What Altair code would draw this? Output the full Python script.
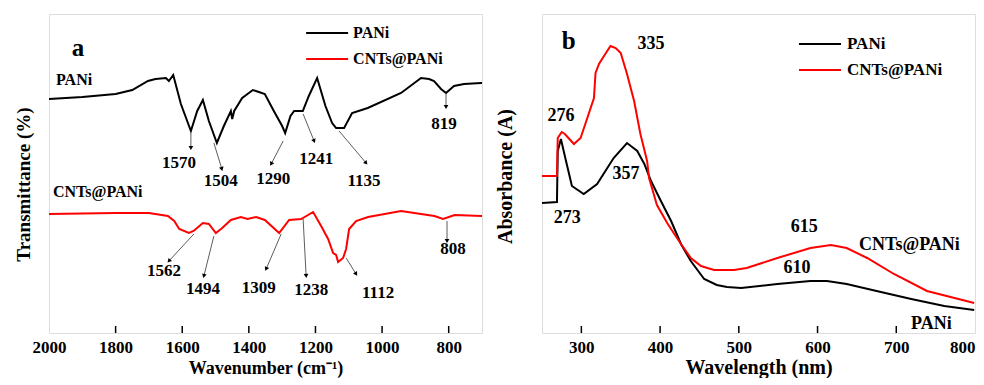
import math
import altair as alt
import pandas as pd

FONT = "Liberation Serif, Times New Roman, serif"

# ---------------- data: FTIR (panel a) ----------------
ftir_pani_wn = [2000, 1900, 1800, 1750, 1703, 1680, 1649, 1640, 1627, 1604, 1574, 1555, 1538,
                1520, 1496, 1475, 1454, 1450, 1444, 1420, 1388, 1370, 1352, 1325, 1300, 1291,
                1275, 1264, 1238, 1220, 1195, 1170, 1150, 1138, 1114, 1090, 1043, 943, 883,
                859, 844, 823, 808, 784, 754, 703, 700]
ftir_pani_t = [234, 236, 239, 243, 252, 254, 255, 252, 258, 229, 202, 222, 233,
               212, 190, 207, 222, 214, 222, 235, 243, 241, 239, 222, 207, 200,
               217, 222, 222, 237, 255, 227, 210, 205, 205, 220, 225, 240, 255,
               254, 252, 244, 240, 247, 249, 250, 250]

ftir_cnt_wn = [2000, 1800, 1700, 1643, 1624, 1609, 1580, 1566, 1538, 1520, 1499, 1480, 1454,
               1424, 1404, 1378, 1352, 1309, 1279, 1243, 1207, 1183, 1162, 1147, 1138, 1132,
               1117, 1108, 1099, 1078, 1042, 943, 843, 817, 782, 700]
ftir_cnt_t = [119, 120, 120, 117, 112, 104, 100, 102, 110, 109, 100, 105, 113,
              116, 114, 116, 113, 100, 113, 114, 121, 107, 94, 80, 78, 71,
              75, 84, 104, 112, 116, 122, 117, 114, 118, 117]

# ---------------- data: UV-Vis (panel b) ----------------
uv_pani_wl = [250, 269, 270, 274, 280.5, 288, 303, 320, 341, 358, 371, 380, 388.5, 401, 414,
              426.5, 439, 456, 472, 485, 503, 549, 591, 612, 637, 675, 719, 761, 799]
uv_pani_a = [130, 131, 182, 194, 172, 147, 139, 149, 175, 190, 182, 169, 152, 132, 112,
             89, 72, 54, 48, 46, 45, 49, 52, 52, 49, 42, 34, 27, 23]

uv_cnt_wl = [250, 269, 270, 275, 279, 290.6, 299, 303.3, 316, 318, 322.4, 328.7, 337, 343.6,
             350, 358, 367, 375, 383.5, 386, 396, 409, 426.5, 439, 452, 468.5, 494, 510, 549,
             591, 617, 637, 663, 697, 739, 799]
uv_cnt_a = [157, 157, 195, 201, 199, 189, 195, 205, 235, 260, 269, 277, 287, 285,
            280, 259, 232, 199, 172, 155, 128, 110, 89, 75, 67, 63, 63, 65, 75,
            85, 88, 85, 75, 59, 42, 30]

series_names = ["PANi", "CNTs@PANi"]
series_colors = ["#000000", "#ff0000"]

# axis ticks
ftir_tick_values = [2000, 1800, 1600, 1400, 1200, 1000, 800]
ftir_inner_ticks = [1800, 1600, 1400, 1200, 1000, 800]
uv_tick_values = [300, 400, 500, 600, 700, 800]
uv_inner_ticks = [300, 400, 500, 600, 700]

# peak annotations panel a: label, text x, text y, arrow x1, y1, x2, y2
ftir_peak_labels = ["1570", "1504", "1290", "1241", "1135", "819",
                    "1562", "1494", "1309", "1238", "1112", "808"]
ftir_peak_tx = [1610, 1484, 1327, 1198, 1054, 814, 1655, 1538, 1370, 1213, 1012, 787]
ftir_peak_ty = [170, 152, 154, 174, 152, 209, 62, 44, 45, 43, 40, 84]
ftir_arrow_x1 = [1574, 1505, 1297, 1237, 1129, 808, 1565, 1505, 1303, 1237, 1108, 805]
ftir_arrow_y1 = [200, 190, 192, 219, 202, 239, 99, 97, 99, 114, 75, 112]
ftir_arrow_x2 = [1574, 1481, 1333, 1204, 1048, 808, 1640, 1535, 1348, 1228, 1078, 805]
ftir_arrow_y2 = [185, 164, 169, 192, 170, 226, 72, 57, 64, 57, 59, 92]

ftir_curve_labels = ["PANi", "CNTs@PANi"]
ftir_curve_lx = [1979, 1988]
ftir_curve_ly = [253, 141]

# annotations panel b
uv_peak_labels = ["335", "276", "357", "273", "615", "610"]
uv_peak_tx = [388.5, 274, 356.7, 282, 583, 574]
uv_peak_ty = [289, 217, 159, 115, 106, 65]
uv_curve_labels = ["CNTs@PANi", "PANi"]
uv_curve_lx = [652.7, 718.7]
uv_curve_ly = [88, 9]

# in-plot legends (data coordinates)
ftir_leg_x1, ftir_leg_x2, ftir_leg_tx = 1228, 1102, 1087
ftir_leg_y = [300, 274]
uv_leg_x1, uv_leg_x2, uv_leg_tx = 576.4, 629.8, 637.4
uv_leg_y = [289, 263]

W, H = 433, 319
Y_DOMAIN = [0, 319]

color_scale = alt.Scale(domain=series_names, range=series_colors)


def series_df(xs, ys, name):
    return pd.DataFrame({"x": xs, "y": ys, "series": name, "order": list(range(len(xs)))})


def arrow_df(labels, x1, y1, x2, y2, kx):
    rows = []
    for lab, a, b, c, d in zip(labels, x1, y1, x2, y2):
        dx = (c - a) * kx
        dy = -(d - b)
        ang = math.degrees(math.atan2(dx, -dy)) % 360
        rows.append({"label": lab, "x1": a, "y1": b, "x2": c, "y2": d, "ang": ang})
    return pd.DataFrame(rows)


def panel(lines_df, xdom, reverse, xvals, inner_ticks, xtitle, ytitle, xtitle_size,
          ytitle_size, ytitle_pad, ytitle_y, xtitle_pad, flush, arrows, peak_df, curve_df,
          leg_df, letter, letter_xy, ann_size, curve_size, leg_size):
    xs = alt.Scale(domain=xdom, reverse=reverse, nice=False, zero=False)
    ys = alt.Scale(domain=Y_DOMAIN, nice=False, zero=False)
    x_axis = alt.Axis(values=xvals, title=xtitle, grid=False, domain=False, ticks=False,
                      format="d", labelFlush=flush, labelPadding=6, labelFont=FONT,
                      labelFontWeight="bold", labelFontSize=17, labelColor="#000",
                      titleFont=FONT, titleFontWeight="bold", titleFontSize=xtitle_size,
                      titleColor="#000", titlePadding=xtitle_pad)
    y_axis = alt.Axis(labels=False, ticks=False, domain=False, grid=False, title=ytitle,
                      titleFont=FONT, titleFontWeight="bold", titleFontSize=ytitle_size,
                      titleColor="#000", titlePadding=ytitle_pad, titleY=ytitle_y)

    base_lines = alt.Chart(lines_df).mark_line(strokeWidth=2, clip=True).encode(
        x=alt.X("x:Q", scale=xs, axis=x_axis),
        y=alt.Y("y:Q", scale=ys, axis=y_axis),
        color=alt.Color("series:N", scale=color_scale, legend=None),
        order="order:Q",
        detail="series:N",
    )

    ticks = alt.Chart(pd.DataFrame({"t": inner_ticks})).mark_rule(
        color="#000", strokeWidth=1.5).encode(
        x=alt.X("t:Q", scale=xs), y=alt.value(H), y2=alt.value(H - 7))

    layers = [base_lines, ticks]
    if len(arrows):
        arrow_lines = alt.Chart(arrows).mark_rule(color="#333", strokeWidth=0.8).encode(
            x=alt.X("x1:Q", scale=xs), x2="x2:Q",
            y=alt.Y("y1:Q", scale=ys), y2="y2:Q")
        arrow_heads = alt.Chart(arrows).mark_point(
            shape="triangle-up", filled=True, color="#000", size=22, opacity=1).encode(
            x=alt.X("x2:Q", scale=xs), y=alt.Y("y2:Q", scale=ys),
            angle=alt.Angle("ang:Q", scale=None))
        layers += [arrow_lines, arrow_heads]

    peak_text = alt.Chart(peak_df).mark_text(
        font=FONT, fontWeight="bold", fontSize=ann_size, color="#000",
        align="center", baseline="middle").encode(
        x=alt.X("x:Q", scale=xs), y=alt.Y("y:Q", scale=ys), text="label:N")

    curve_text = alt.Chart(curve_df).mark_text(
        font=FONT, fontWeight="bold", fontSize=curve_size, color="#000",
        align="left", baseline="middle").encode(
        x=alt.X("x:Q", scale=xs), y=alt.Y("y:Q", scale=ys), text="label:N")

    leg_lines = alt.Chart(leg_df).mark_rule(strokeWidth=2).encode(
        x=alt.X("x1:Q", scale=xs), x2="x2:Q", y=alt.Y("y:Q", scale=ys),
        color=alt.Color("series:N", scale=color_scale, legend=None))
    leg_text = alt.Chart(leg_df).mark_text(
        font=FONT, fontWeight="bold", fontSize=leg_size, color="#000",
        align="left", baseline="middle").encode(
        x=alt.X("tx:Q", scale=xs), y=alt.Y("y:Q", scale=ys), text="series:N")

    letter_text = alt.Chart(pd.DataFrame({"x": [letter_xy[0]], "y": [letter_xy[1]],
                                          "label": [letter]})).mark_text(
        font=FONT, fontWeight="bold", fontSize=25, color="#000",
        align="center", baseline="middle").encode(
        x=alt.X("x:Q", scale=xs), y=alt.Y("y:Q", scale=ys), text="label:N")

    layers += [peak_text, curve_text, leg_lines, leg_text, letter_text]
    return alt.layer(*layers).properties(width=W, height=H)


ftir_lines = pd.concat([series_df(ftir_pani_wn, ftir_pani_t, "PANi"),
                        series_df(ftir_cnt_wn, ftir_cnt_t, "CNTs@PANi")])
uv_lines = pd.concat([series_df(uv_pani_wl, uv_pani_a, "PANi"),
                      series_df(uv_cnt_wl, uv_cnt_a, "CNTs@PANi")])

ftir_arrows = arrow_df(ftir_peak_labels, ftir_arrow_x1, ftir_arrow_y1, ftir_arrow_x2,
                       ftir_arrow_y2, -W / 1300)
uv_arrows = pd.DataFrame()

ftir_peaks = pd.DataFrame({"label": ftir_peak_labels, "x": ftir_peak_tx, "y": ftir_peak_ty})
ftir_curves = pd.DataFrame({"label": ftir_curve_labels, "x": ftir_curve_lx, "y": ftir_curve_ly})
uv_peaks = pd.DataFrame({"label": uv_peak_labels, "x": uv_peak_tx, "y": uv_peak_ty})
uv_curves = pd.DataFrame({"label": uv_curve_labels, "x": uv_curve_lx, "y": uv_curve_ly})

ftir_leg = pd.DataFrame({"series": series_names, "x1": [ftir_leg_x1] * 2,
                         "x2": [ftir_leg_x2] * 2, "tx": [ftir_leg_tx] * 2, "y": ftir_leg_y})
uv_leg = pd.DataFrame({"series": series_names, "x1": [uv_leg_x1] * 2,
                       "x2": [uv_leg_x2] * 2, "tx": [uv_leg_tx] * 2, "y": uv_leg_y})

left = panel(ftir_lines, [700, 2000], True, ftir_tick_values, ftir_inner_ticks,
             "Wavenumber (cm\u207b\u00b9)", "Transmittance (%)", 18, 19, 16, 170, 4, False,
             ftir_arrows, ftir_peaks, ftir_curves, ftir_leg, "a", (1913, 285),
             17, 16, 16)
right = panel(uv_lines, [250, 800], False, uv_tick_values, uv_inner_ticks,
              "Wavelength (nm)", "Absorbance (A)", 20, 20, 27, 162, 2, True,
              uv_arrows, uv_peaks, uv_curves, uv_leg, "b", (284, 292),
              18, 18, 17)

chart = alt.hconcat(left, right, spacing=11).properties(
    padding={"left": 5, "top": 5, "right": 0, "bottom": 0}
).configure_view(stroke="#000", strokeWidth=1.5).configure(background="white")

chart.save("out.html", embed_options={"renderer": "svg", "actions": False})
